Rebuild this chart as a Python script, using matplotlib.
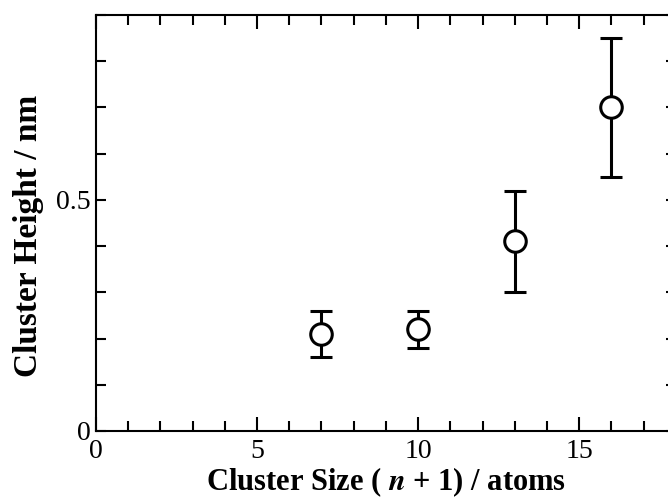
import matplotlib
matplotlib.use('Agg')
import matplotlib.pyplot as plt
from matplotlib.ticker import MultipleLocator

# 数据
cluster_size = [7, 10, 13, 16]
cluster_height = [0.21, 0.22, 0.41, 0.70]
height_err = [0.05, 0.04, 0.11, 0.15]

plt.rcParams['font.family'] = ['Liberation Serif', 'DejaVu Serif']
plt.rcParams['mathtext.fontset'] = 'stix'

fig = plt.figure(figsize=(6.68, 4.99), dpi=100)
# 右侧边框被裁掉，所以坐标轴略超出画布
ax = fig.add_axes([0.1437, 0.1363, 0.868, 0.8337])

ax.errorbar(cluster_size, cluster_height, yerr=height_err,
            fmt='o', color='black', markerfacecolor='white',
            markeredgecolor='black', markersize=15.5, markeredgewidth=2.2,
            elinewidth=2.2, capsize=8, capthick=2.4, zorder=3)

ax.set_xlim(0, 18)
ax.set_ylim(0, 0.9)

ax.xaxis.set_major_locator(MultipleLocator(5))
ax.xaxis.set_minor_locator(MultipleLocator(1))
ax.yaxis.set_major_locator(MultipleLocator(0.5))
ax.yaxis.set_minor_locator(MultipleLocator(0.1))
ax.yaxis.set_major_formatter(plt.FuncFormatter(lambda v, p: '0' if v == 0 else f'{v:g}'))

ax.tick_params(which='both', direction='in', top=True, right=True, width=1.5,
               labelsize=20, pad=4)
ax.tick_params(axis='x', which='both', pad=6)
ax.tick_params(axis='x', which='major', length=10)
ax.tick_params(axis='x', which='minor', length=7)
ax.tick_params(axis='y', which='major', length=7)
ax.tick_params(axis='y', which='minor', length=7)

for s in ax.spines.values():
    s.set_linewidth(1.5)

ax.set_xlabel(r'Cluster Size ( $\boldsymbol{n}$ + 1) / atoms', fontsize=22, fontweight='bold')
ax.set_ylabel('Cluster Height / nm', fontsize=24, fontweight='bold')
ax.xaxis.label.set_va('baseline')
ax.yaxis.label.set_va('center')
ax.xaxis.set_label_coords(0.5, -0.142)
ax.yaxis.set_label_coords(-0.117, 0.469)

fig.savefig('out.png', dpi=100)
